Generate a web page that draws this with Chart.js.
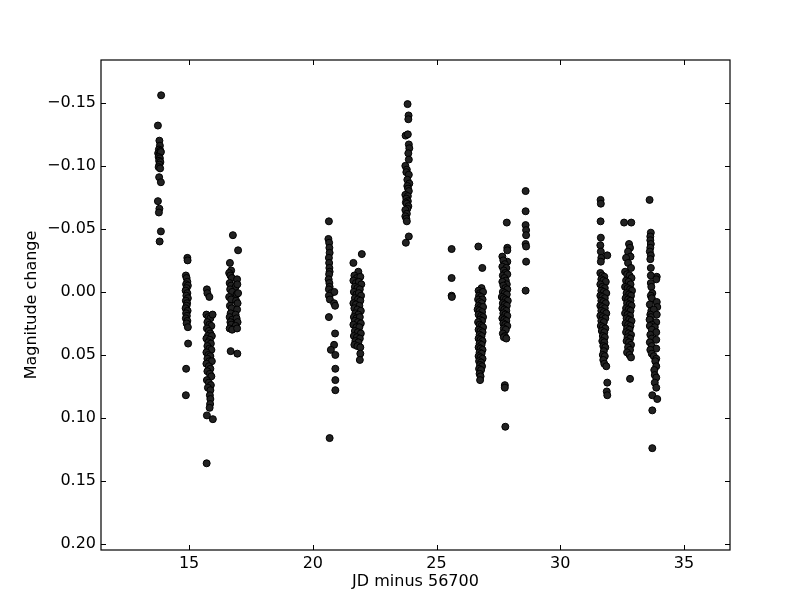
<!DOCTYPE html>
<html>
<head>
<meta charset="utf-8">
<script src="https://cdn.jsdelivr.net/npm/chart.js@4/dist/chart.umd.min.js"></script>
<style>
html,body{margin:0;padding:0;background:#fff;}
canvas{display:block;}
</style>
</head>
<body>
<canvas id="c" width="812" height="612"></canvas>
<script>
// Observation nights: [JD - 56700, magnitude change]
const night01 = [[13.87,-0.156],[13.74,-0.132],[13.80,-0.120],[13.82,-0.116],[13.78,-0.113],[13.84,-0.112],[13.75,-0.110],[13.80,-0.109],[13.86,-0.111],[13.77,-0.107],[13.82,-0.106],[13.79,-0.104],[13.84,-0.103],[13.80,-0.101],[13.77,-0.099],[13.83,-0.098],[13.79,-0.091],[13.86,-0.087],[13.74,-0.072],[13.80,-0.066],[13.78,-0.063],[13.86,-0.048],[13.81,-0.040]];
const night02 = [[14.93,-0.027],[14.94,-0.025],[14.87,-0.013],[14.90,-0.011],[14.93,-0.008],[14.88,-0.006],[14.95,-0.005],[14.90,-0.003],[14.86,-0.001],[14.93,0.001],[14.89,0.003],[14.95,0.005],[14.87,0.007],[14.92,0.009],[14.90,0.011],[14.86,0.013],[14.94,0.015],[14.88,0.017],[14.91,0.019],[14.87,0.021],[14.93,0.023],[14.90,0.025],[14.95,0.028],[14.96,0.041],[14.88,0.061],[14.87,0.082]];
const night03 = [[15.72,-0.002],[15.74,0.001],[15.82,0.004],[15.70,0.018],[15.78,0.020],[15.86,0.021],[15.95,0.018],[15.74,0.024],[15.82,0.026],[15.90,0.027],[15.72,0.029],[15.80,0.031],[15.86,0.033],[15.76,0.035],[15.92,0.035],[15.70,0.037],[15.84,0.038],[15.78,0.040],[15.88,0.041],[15.74,0.043],[15.82,0.045],[15.90,0.046],[15.70,0.048],[15.78,0.050],[15.86,0.051],[15.74,0.053],[15.82,0.055],[15.92,0.055],[15.70,0.057],[15.80,0.059],[15.86,0.061],[15.74,0.063],[15.84,0.065],[15.90,0.067],[15.72,0.070],[15.80,0.072],[15.88,0.074],[15.76,0.076],[15.86,0.078],[15.84,0.082],[15.86,0.085],[15.85,0.089],[15.83,0.092],[15.72,0.098],[15.96,0.101],[15.71,0.136]];
const night04 = [[16.77,-0.045],[16.98,-0.033],[16.65,-0.023],[16.70,-0.017],[16.62,-0.015],[16.67,-0.013],[16.73,-0.011],[16.94,-0.010],[16.64,-0.007],[16.70,-0.005],[16.88,-0.004],[16.95,-0.006],[16.66,-0.002],[16.74,0.000],[16.92,0.002],[16.98,0.001],[16.62,0.004],[16.70,0.006],[16.90,0.007],[16.96,0.009],[16.65,0.011],[16.72,0.013],[16.94,0.014],[16.68,0.017],[16.88,0.018],[16.64,0.020],[16.74,0.022],[16.92,0.021],[16.67,0.024],[16.96,0.024],[16.70,0.026],[16.88,0.027],[16.64,0.029],[16.74,0.030],[16.94,0.029],[16.68,0.047],[16.95,0.049]];
const night05 = [[20.65,-0.056],[20.63,-0.042],[20.66,-0.039],[20.67,-0.035],[20.68,-0.031],[20.65,-0.027],[20.66,-0.023],[20.67,-0.019],[20.68,-0.016],[20.66,-0.014],[20.64,-0.010],[20.67,-0.007],[20.68,-0.004],[20.65,-0.002],[20.74,0.001],[20.87,0.000],[20.65,0.003],[20.69,0.006],[20.86,0.009],[20.90,0.011],[20.65,0.020],[20.90,0.033],[20.86,0.042],[20.73,0.046],[20.91,0.050],[20.91,0.061],[20.91,0.070],[20.91,0.078],[20.68,0.116]];
const night06 = [[21.98,-0.030],[21.64,-0.023],[21.84,-0.016],[21.68,-0.013],[21.78,-0.011],[21.92,-0.012],[21.64,-0.009],[21.74,-0.007],[21.86,-0.008],[21.96,-0.006],[21.70,-0.004],[21.80,-0.003],[21.90,-0.002],[21.66,0.000],[21.76,0.002],[21.86,0.001],[21.95,0.003],[21.70,0.005],[21.82,0.006],[21.92,0.007],[21.64,0.009],[21.74,0.010],[21.88,0.011],[21.68,0.013],[21.80,0.014],[21.94,0.015],[21.72,0.017],[21.84,0.018],[21.66,0.020],[21.76,0.021],[21.90,0.020],[21.70,0.023],[21.82,0.024],[21.94,0.025],[21.64,0.026],[21.76,0.028],[21.88,0.028],[21.70,0.031],[21.82,0.032],[21.94,0.033],[21.66,0.035],[21.78,0.036],[21.90,0.037],[21.72,0.039],[21.84,0.040],[21.68,0.042],[21.80,0.043],[21.92,0.044],[21.92,0.049],[21.90,0.054]];
const night07 = [[23.83,-0.149],[23.87,-0.140],[23.86,-0.137],[23.75,-0.124],[23.84,-0.125],[23.88,-0.117],[23.90,-0.114],[23.86,-0.110],[23.88,-0.105],[23.74,-0.100],[23.80,-0.097],[23.78,-0.095],[23.88,-0.093],[23.82,-0.089],[23.90,-0.086],[23.82,-0.084],[23.85,-0.082],[23.88,-0.080],[23.74,-0.077],[23.84,-0.076],[23.78,-0.074],[23.84,-0.072],[23.76,-0.071],[23.80,-0.070],[23.86,-0.068],[23.82,-0.066],[23.74,-0.065],[23.80,-0.062],[23.74,-0.060],[23.78,-0.058],[23.80,-0.056],[23.88,-0.044],[23.76,-0.039]];
const night08 = [[25.61,-0.034],[25.61,-0.011],[25.61,0.003],[25.62,0.004]];
const night09 = [[26.69,-0.036],[26.85,-0.019],[26.82,-0.003],[26.70,-0.001],[26.76,0.001],[26.88,0.000],[26.72,0.003],[26.80,0.004],[26.68,0.006],[26.86,0.006],[26.74,0.008],[26.82,0.009],[26.70,0.011],[26.78,0.012],[26.88,0.012],[26.66,0.014],[26.74,0.015],[26.84,0.016],[26.70,0.018],[26.80,0.019],[26.88,0.020],[26.76,0.022],[26.84,0.023],[26.68,0.024],[26.74,0.026],[26.82,0.027],[26.88,0.028],[26.70,0.030],[26.78,0.031],[26.86,0.032],[26.74,0.034],[26.82,0.035],[26.70,0.037],[26.78,0.038],[26.86,0.039],[26.74,0.041],[26.82,0.042],[26.70,0.044],[26.78,0.045],[26.86,0.046],[26.74,0.048],[26.82,0.049],[26.70,0.051],[26.78,0.052],[26.86,0.053],[26.72,0.055],[26.80,0.056],[26.76,0.058],[26.84,0.059],[26.72,0.061],[26.80,0.062],[26.74,0.065],[26.78,0.067],[26.76,0.070]];
const night10 = [[27.84,-0.055],[27.86,-0.035],[27.86,-0.033],[27.66,-0.028],[27.86,-0.024],[27.70,-0.025],[27.76,-0.022],[27.66,-0.020],[27.82,-0.019],[27.72,-0.017],[27.78,-0.015],[27.68,-0.013],[27.86,-0.014],[27.74,-0.011],[27.80,-0.009],[27.66,-0.008],[27.84,-0.006],[27.70,-0.005],[27.78,-0.003],[27.86,-0.002],[27.68,0.000],[27.76,0.001],[27.84,0.002],[27.64,0.004],[27.72,0.005],[27.80,0.006],[27.88,0.007],[27.68,0.009],[27.76,0.010],[27.84,0.011],[27.66,0.013],[27.74,0.014],[27.82,0.015],[27.70,0.017],[27.78,0.018],[27.86,0.019],[27.66,0.021],[27.74,0.022],[27.82,0.023],[27.70,0.025],[27.78,0.026],[27.86,0.027],[27.72,0.029],[27.80,0.030],[27.68,0.033],[27.76,0.035],[27.72,0.036],[27.82,0.037],[27.76,0.074],[27.76,0.076],[27.78,0.107]];
const night11 = [[28.60,-0.080],[28.60,-0.064],[28.60,-0.053],[28.62,-0.049],[28.62,-0.045],[28.60,-0.038],[28.62,-0.036],[28.62,-0.024],[28.60,-0.001]];
const night12 = [[31.63,-0.073],[31.64,-0.070],[31.63,-0.056],[31.64,-0.043],[31.62,-0.037],[31.64,-0.032],[31.66,-0.027],[31.90,-0.029],[31.64,-0.024],[31.62,-0.015],[31.70,-0.013],[31.78,-0.012],[31.66,-0.010],[31.74,-0.009],[31.84,-0.008],[31.62,-0.006],[31.70,-0.004],[31.80,-0.003],[31.66,-0.001],[31.76,0.000],[31.86,0.001],[31.62,0.003],[31.70,0.004],[31.80,0.005],[31.66,0.007],[31.74,0.008],[31.84,0.009],[31.62,0.011],[31.70,0.012],[31.80,0.013],[31.66,0.015],[31.76,0.016],[31.86,0.017],[31.62,0.019],[31.72,0.020],[31.82,0.021],[31.66,0.023],[31.76,0.024],[31.64,0.027],[31.72,0.028],[31.82,0.029],[31.68,0.031],[31.78,0.032],[31.72,0.035],[31.80,0.036],[31.70,0.039],[31.78,0.040],[31.74,0.043],[31.82,0.044],[31.76,0.047],[31.72,0.050],[31.80,0.051],[31.74,0.054],[31.78,0.057],[31.86,0.059],[31.90,0.072],[31.88,0.079],[31.90,0.082]];
const night13 = [[32.58,-0.055],[32.87,-0.055],[32.78,-0.038],[32.82,-0.035],[32.74,-0.032],[32.84,-0.028],[32.66,-0.027],[32.74,-0.023],[32.86,-0.019],[32.62,-0.016],[32.70,-0.014],[32.80,-0.013],[32.88,-0.011],[32.66,-0.009],[32.76,-0.008],[32.84,-0.006],[32.62,-0.004],[32.72,-0.003],[32.82,-0.002],[32.90,-0.001],[32.68,0.001],[32.78,0.002],[32.86,0.003],[32.64,0.005],[32.74,0.006],[32.84,0.007],[32.70,0.009],[32.80,0.010],[32.88,0.011],[32.66,0.013],[32.76,0.014],[32.84,0.015],[32.62,0.017],[32.72,0.018],[32.82,0.019],[32.68,0.021],[32.78,0.022],[32.88,0.023],[32.64,0.025],[32.74,0.026],[32.84,0.027],[32.70,0.029],[32.80,0.030],[32.66,0.032],[32.76,0.033],[32.86,0.034],[32.72,0.036],[32.82,0.037],[32.68,0.039],[32.78,0.040],[32.86,0.042],[32.74,0.044],[32.82,0.046],[32.70,0.048],[32.80,0.050],[32.86,0.052],[32.82,0.069]];
const night14 = [[33.61,-0.073],[33.66,-0.047],[33.64,-0.044],[33.64,-0.041],[33.66,-0.038],[33.64,-0.035],[33.62,-0.032],[33.66,-0.029],[33.64,-0.026],[33.66,-0.019],[33.90,-0.012],[33.66,-0.013],[33.88,-0.010],[33.66,-0.007],[33.68,-0.004],[33.72,0.001],[33.66,0.003],[33.70,0.005],[33.90,0.008],[33.62,0.010],[33.92,0.012],[33.68,0.015],[33.78,0.014],[33.64,0.018],[33.90,0.018],[33.66,0.020],[33.61,0.022],[33.88,0.024],[33.70,0.026],[33.62,0.027],[33.82,0.028],[33.70,0.030],[33.88,0.032],[33.64,0.034],[33.70,0.037],[33.88,0.038],[33.62,0.040],[33.70,0.043],[33.88,0.045],[33.64,0.046],[33.70,0.049],[33.78,0.051],[33.88,0.053],[33.84,0.055],[33.88,0.059],[33.80,0.062],[33.82,0.066],[33.88,0.068],[33.82,0.072],[33.88,0.076],[33.72,0.082],[33.92,0.085],[33.72,0.094],[33.72,0.124]];

const xTicks = [15, 20, 25, 30, 35];
const yTicks = [-0.15, -0.10, -0.05, 0.00, 0.05, 0.10, 0.15, 0.20];
const xLabel = 'JD minus 56700';
const yLabel = 'Magnitude change';

const nights = [night01, night02, night03, night04, night05, night06, night07, night08, night09, night10, night11, night12, night13, night14];
const points = [];
nights.forEach(n => n.forEach(p => points.push({x: p[0], y: p[1]})));

const FONT = {family: 'DejaVu Sans', size: 16};

const frameTicks = {
  id: 'frameTicks',
  afterDraw(chart) {
    const {ctx, chartArea: a, scales: {x, y}} = chart;
    ctx.save();
    ctx.strokeStyle = '#000';
    ctx.lineWidth = 1.2;
    ctx.strokeRect(a.left, a.top, a.right - a.left, a.bottom - a.top);
    ctx.lineWidth = 1;
    const L = 5;
    ctx.beginPath();
    x.ticks.forEach(t => {
      const px = Math.round(x.getPixelForValue(t.value)) + 0.5;
      ctx.moveTo(px, a.bottom); ctx.lineTo(px, a.bottom - L);
      ctx.moveTo(px, a.top); ctx.lineTo(px, a.top + L);
    });
    y.ticks.forEach(t => {
      const py = Math.round(y.getPixelForValue(t.value)) + 0.5;
      ctx.moveTo(a.left, py); ctx.lineTo(a.left + L, py);
      ctx.moveTo(a.right, py); ctx.lineTo(a.right - L, py);
    });
    ctx.stroke();
    ctx.restore();
  }
};

new Chart(document.getElementById('c'), {
  type: 'scatter',
  data: {
    datasets: [{
      data: points,
      backgroundColor: '#222222',
      borderColor: '#000000',
      borderWidth: 1,
      pointRadius: 3.5,
      pointHoverRadius: 3.5
    }]
  },
  options: {
    responsive: false,
    animation: false,
    devicePixelRatio: 1,
    layout: {padding: {left: 0, top: 60, right: 82, bottom: 0}},
    plugins: {legend: {display: false}, tooltip: {enabled: false}},
    scales: {
      x: {
        type: 'linear',
        min: 11.44,
        max: 36.86,
        afterFit: s => { s.height = 62; },
        afterBuildTicks: s => { s.ticks = xTicks.map(v => ({value: v})); },
        grid: {display: false, drawTicks: false},
        border: {display: false},
        ticks: {color: '#000', font: FONT, padding: 4, callback: v => String(v)},
        title: {display: true, text: xLabel, color: '#000', font: FONT, padding: {top: 0, bottom: 21}}
      },
      y: {
        type: 'linear',
        reverse: true,
        min: -0.184,
        max: 0.2048,
        afterFit: s => { s.width = 101; },
        afterBuildTicks: s => { s.ticks = yTicks.map(v => ({value: v})); },
        grid: {display: false, drawTicks: false},
        border: {display: false},
        ticks: {color: '#000', font: FONT, padding: 5, callback: v => v.toFixed(2).replace('-', '\u2212')},
        title: {display: true, text: yLabel, color: '#000', font: FONT, padding: {top: 22, bottom: 0}}
      }
    }
  },
  plugins: [frameTicks]
});
</script>
</body>
</html>
